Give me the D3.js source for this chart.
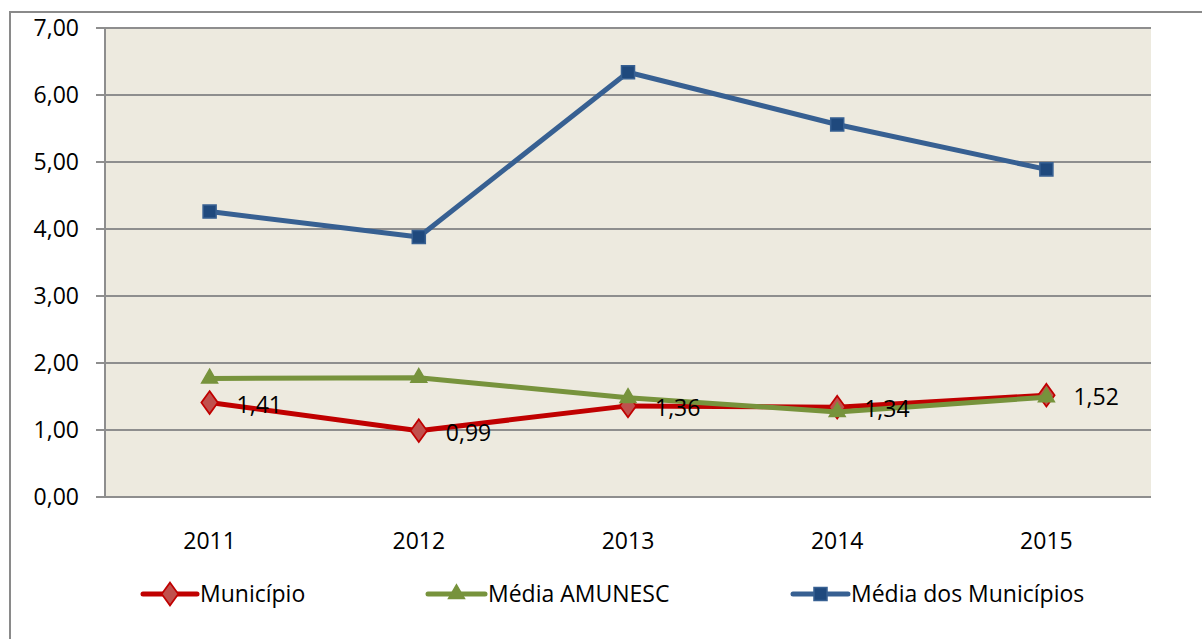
<!DOCTYPE html>
<html lang="pt"><head><meta charset="UTF-8">
<title>Município x Médias</title>
<script src="https://d3js.org/d3.v7.min.js"></script>
<style>
  body { margin: 0; background: #fff; }
  text { font-family: "Open Sans", "Noto Sans", sans-serif; fill: #000; }
</style>
</head>
<body>
<script>
// data
var anos = ["2011", "2012", "2013", "2014", "2015"];
var municipio = [1.41, 0.99, 1.36, 1.34, 1.52];
var mediaAmunesc = [1.77, 1.78, 1.48, 1.27, 1.49];
var mediaMunicipios = [4.26, 3.88, 6.34, 5.56, 4.89];
var yTicks = [0, 1, 2, 3, 4, 5, 6, 7];

var w = 1202, h = 639;
// plot area edges
var pLeft = 105, pRight = 1151, pTop = 28, pBottom = 497;
var fs = "23px";

var svg = d3.select("body").append("svg")
  .attr("width", w).attr("height", h);

// outer chart border (runs off the picture on the right and bottom)
svg.append("rect")
  .attr("x", 10).attr("y", 12)
  .attr("width", 1230).attr("height", 660)
  .attr("fill", "none").attr("stroke", "#8a8a8a").attr("stroke-width", 2);

var x = d3.scaleBand().domain(anos).range([pLeft, pRight]);
var y = d3.scaleLinear().domain([0, 7]).range([pBottom, pTop]);
var fmt = function(v) { return d3.format(".2f")(v).replace(".", ","); };
var cx = function(i) { return x(anos[i]) + x.bandwidth() / 2; };

// plot background
svg.append("rect")
  .attr("x", pLeft).attr("y", pTop)
  .attr("width", pRight - pLeft).attr("height", pBottom - pTop)
  .attr("fill", "#edeadf");

// gridlines + tick marks
svg.selectAll("line.grid")
  .data(yTicks)
  .enter().append("line")
  .attr("class", "grid")
  .attr("x1", pLeft - 9).attr("x2", pRight)
  .attr("y1", function(d) { return y(d); })
  .attr("y2", function(d) { return y(d); })
  .attr("stroke", "#8e8e8e").attr("stroke-width", 2);

// y axis line
svg.append("line")
  .attr("x1", pLeft).attr("x2", pLeft)
  .attr("y1", pTop).attr("y2", pBottom)
  .attr("stroke", "#8e8e8e").attr("stroke-width", 2);

// y labels
svg.selectAll("text.ylab")
  .data(yTicks)
  .enter().append("text")
  .attr("class", "ylab")
  .attr("x", 79)
  .attr("y", function(d) { return y(d); })
  .attr("dy", "0.35em")
  .attr("text-anchor", "end")
  .style("font-size", fs)
  .text(fmt);

// x labels
svg.selectAll("text.xlab")
  .data(anos)
  .enter().append("text")
  .attr("class", "xlab")
  .attr("x", function(d, i) { return cx(i); })
  .attr("y", 541)
  .attr("dy", "0.35em")
  .attr("text-anchor", "middle")
  .style("font-size", fs)
  .text(function(d) { return d; });

var series = [
  { nome: "Município", valores: municipio, cor: "#c00000", fill: "#c0504d", stroke: "#c00000", sym: d3.symbolDiamond, size: 150, legX: 143, legW: 54 },
  { nome: "Média AMUNESC", valores: mediaAmunesc, cor: "#77933c", fill: "#77933c", stroke: "#77933c", sym: d3.symbolTriangle, size: 110, legX: 428, legW: 57 },
  { nome: "Média dos Municípios", valores: mediaMunicipios, cor: "#376092", fill: "#1f497d", stroke: "#376092", sym: d3.symbolSquare, size: 170, legX: 793, legW: 55 }
];

var line = d3.line()
  .x(function(d, i) { return cx(i); })
  .y(function(d) { return y(d); });

function symTransform(s, px, py) {
  return "translate(" + px + "," + py + ")" + (s.sym === d3.symbolDiamond ? "scale(1.25,1)" : "");
}

series.forEach(function(s) {
  svg.append("path")
    .datum(s.valores)
    .attr("d", line)
    .attr("fill", "none")
    .attr("stroke", s.cor)
    .attr("stroke-width", 5)
    .attr("stroke-linejoin", "round");

  svg.selectAll(null)
    .data(s.valores)
    .enter().append("path")
    .attr("d", d3.symbol().type(s.sym).size(s.size))
    .attr("transform", function(d, i) { return symTransform(s, cx(i), y(d)); })
    .attr("fill", s.fill)
    .attr("stroke", s.stroke)
    .attr("stroke-width", 1.5);
});

// data labels for Município
svg.selectAll("text.dlab")
  .data(municipio)
  .enter().append("text")
  .attr("class", "dlab")
  .attr("x", function(d, i) { return cx(i) + 27; })
  .attr("y", function(d) { return y(d) + 2; })
  .attr("dy", "0.35em")
  .style("font-size", fs)
  .text(fmt);

// legend
var leg = svg.append("g");
series.forEach(function(s) {
  var ly = 594;
  leg.append("line")
    .attr("x1", s.legX).attr("x2", s.legX + s.legW)
    .attr("y1", ly).attr("y2", ly)
    .attr("stroke", s.cor).attr("stroke-width", 5)
    .attr("stroke-linecap", "round");
  leg.append("path")
    .attr("d", d3.symbol().type(s.sym).size(s.size))
    .attr("transform", symTransform(s, s.legX + s.legW / 2, ly))
    .attr("fill", s.fill).attr("stroke", s.stroke).attr("stroke-width", 1.5);
  leg.append("text")
    .attr("x", s.legX + s.legW + 3)
    .attr("y", ly)
    .attr("dy", "0.35em")
    .style("font-size", fs)
    .text(s.nome);
});
</script>
</body></html>
